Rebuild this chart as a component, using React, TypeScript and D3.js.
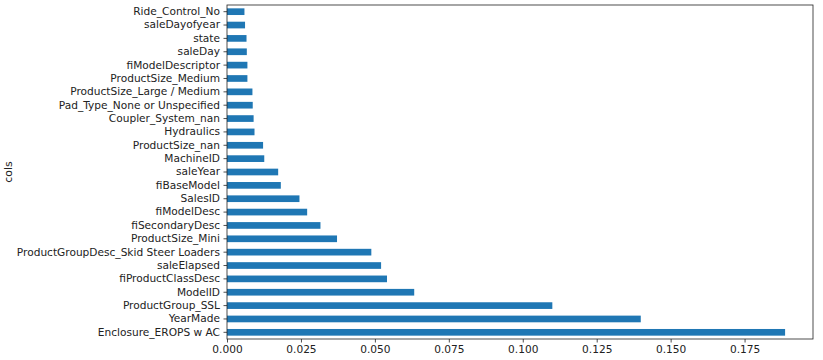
import React, { useEffect, useRef } from "react";
import * as d3 from "d3";

// feature names, top to bottom as drawn
const features = [
  "Ride_Control_No",
  "saleDayofyear",
  "state",
  "saleDay",
  "fiModelDescriptor",
  "ProductSize_Medium",
  "ProductSize_Large / Medium",
  "Pad_Type_None or Unspecified",
  "Coupler_System_nan",
  "Hydraulics",
  "ProductSize_nan",
  "MachineID",
  "saleYear",
  "fiBaseModel",
  "SalesID",
  "fiModelDesc",
  "fiSecondaryDesc",
  "ProductSize_Mini",
  "ProductGroupDesc_Skid Steer Loaders",
  "saleElapsed",
  "fiProductClassDesc",
  "ModelID",
  "ProductGroup_SSL",
  "YearMade",
  "Enclosure_EROPS w AC",
];

const importance = [
  0.0059, 0.0061, 0.0066, 0.0067, 0.0069, 0.0069, 0.0086, 0.0087, 0.009,
  0.0093, 0.0122, 0.0126, 0.0173, 0.0182, 0.0245, 0.0271, 0.0316, 0.0372,
  0.0488, 0.0521, 0.0541, 0.0633, 0.110, 0.1399, 0.1887,
];

const xTicks = [0, 0.025, 0.05, 0.075, 0.1, 0.125, 0.15, 0.175];

export default function App() {
  const ref = useRef<SVGSVGElement>(null);

  useEffect(() => {
    const svg = d3.select(ref.current);
    svg.selectAll("*").remove();

    const width = 823;
    const height = 360;
    const margin = { top: 5, right: 10, bottom: 21, left: 227 };
    const font = "DejaVu Sans, sans-serif";

    const x = d3
      .scaleLinear()
      .domain([0, d3.max(importance)! * 1.05])
      .range([margin.left, width - margin.right]);

    const y = d3
      .scaleBand()
      .domain(features)
      .range([margin.top, height - margin.bottom])
      .paddingInner(0.5)
      .paddingOuter(0.25);

    // bars
    svg
      .append("g")
      .selectAll("rect")
      .data(features)
      .join("rect")
      .attr("x", x(0))
      .attr("y", (d) => y(d)!)
      .attr("width", (d, i) => x(importance[i]) - x(0))
      .attr("height", y.bandwidth())
      .attr("fill", "#1f77b4");

    // x axis
    const xAxis = svg
      .append("g")
      .attr("transform", `translate(0,${height - margin.bottom})`)
      .call(
        d3
          .axisBottom(x)
          .tickValues(xTicks)
          .tickFormat(d3.format(".3f"))
          .tickSize(3.5)
          .tickPadding(3)
          .tickSizeOuter(0)
      );

    // y axis
    const yAxis = svg
      .append("g")
      .attr("transform", `translate(${margin.left},0)`)
      .call(d3.axisLeft(y).tickSize(3.5).tickPadding(3.5).tickSizeOuter(0));

    [xAxis, yAxis].forEach((g) => {
      g.select(".domain").remove();
      g.selectAll("line").attr("stroke", "#222").attr("stroke-width", 0.8);
      g.selectAll("text")
        .attr("fill", "#222")
        .style("font-family", font)
        .style("font-size", "10.6px");
    });

    // frame
    svg
      .append("rect")
      .attr("x", margin.left)
      .attr("y", margin.top)
      .attr("width", width - margin.right - margin.left)
      .attr("height", height - margin.bottom - margin.top)
      .attr("fill", "none")
      .attr("stroke", "#222")
      .attr("stroke-width", 0.8);

    // y label
    svg
      .append("text")
      .attr("transform", `translate(12,${(margin.top + height - margin.bottom) / 2}) rotate(-90)`)
      .attr("text-anchor", "middle")
      .style("font-family", font)
      .style("font-size", "11px")
      .attr("fill", "#222")
      .text("cols");
  }, []);

  return (
    <svg
      ref={ref}
      width={823}
      height={360}
      style={{ position: "absolute", left: 0, top: 0, background: "white" }}
    />
  );
}
